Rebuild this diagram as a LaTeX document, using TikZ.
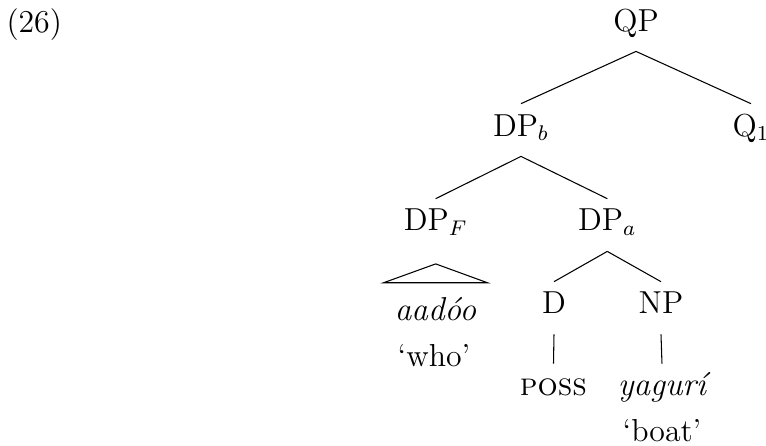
\documentclass[tikz,border=0pt]{standalone}
\usepackage{fontspec}
\usetikzlibrary{calc}
\tikzset{
  every picture/.style={line width=0.4pt, font=\fontsize{12}{14.5}\selectfont},
  cat/.style={anchor=base, inner xsep=1pt, inner ysep=3.5pt, text height=8.5pt, text depth=4pt},
  word/.style={anchor=base, inner sep=1pt},
  obj/.style={font=\fontsize{12.5}{15}\selectfont\itshape},
  branch/.style={draw=black},
}

\begin{document}
\begin{tikzpicture}[x=0.3774pt, y=-0.3774pt]
  \useasboundingbox (0,0) rectangle (766,446);
  % example number
  \node[word, anchor=base west, inner sep=0pt] (ex) at (6,32) {(26)};
  % categories
  \node[cat] (QP) at (636,31) {QP};
  \node[cat] (DPb) at (521,136) {DP$_b$};
  \node[cat] (Q1) at (751,136) {Q$_1$};
  \node[cat] (DPF) at (435.7,231) {DP$_F$};
  \node[cat] (DPa) at (607.3,231) {DP$_a$};
  \node[cat] (D) at (554,314) {D};
  \node[cat] (NP) at (661,314) {NP};
  % terminals and glosses
  \node[word, obj] (aadoo) at (435.5,321) {aadóo};
  \node[word] (who) at (434,366.7) {`who'};
  \node[cat] (poss) at (553.5,396) {\textsc{poss}};
  \node[cat, obj] (yaguri) at (662,396) {yagurí};
  \node[word] (boat) at (662,442) {`boat'};
  % branches
  \draw[branch] (QP.south) -- (DPb.north);
  \draw[branch] (QP.south) -- (Q1.north);
  \draw[branch] (DPb.south) -- (DPF.north);
  \draw[branch] (DPb.south) -- (DPa.north);
  \draw[branch] (DPa.south) -- (D.north);
  \draw[branch] (DPa.south) -- (NP.north);
  \draw[branch] (D.south) -- (poss.north);
  \draw[branch] (NP.south) -- (yaguri.north);
  % roof over aadoo
  \draw[branch] ($(DPF.south)+(0,12.5)$) -- ($(aadoo.north)+(-52,-12)$)
    -- ($(aadoo.north)+(52,-12)$) -- cycle;
\end{tikzpicture}
\end{document}
